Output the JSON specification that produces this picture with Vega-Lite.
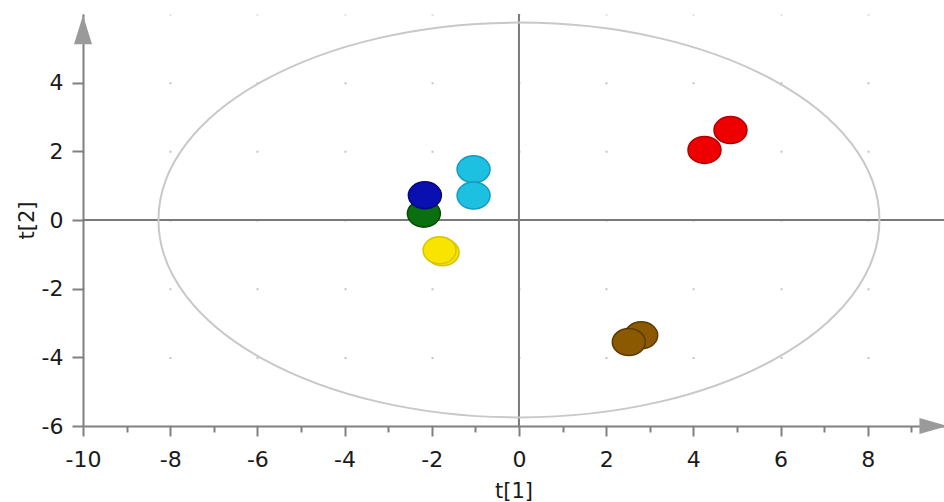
{
  "$schema": "https://vega.github.io/schema/vega-lite/v6.json",
  "width": 861,
  "height": 412,
  "autosize": {"type": "none"},
  "padding": {"left": 83, "top": 14, "right": 0, "bottom": 76},
  "background": "white",
  "config": {
    "view": {"stroke": null},
    "axis": {
      "labelFont": "DejaVu Sans",
      "labelFontSize": 22,
      "labelColor": "#1a1a1a",
      "titleFont": "DejaVu Sans",
      "titleFontSize": 21,
      "titleFontWeight": "normal",
      "titleColor": "#1a1a1a",
      "domainColor": "#808080",
      "domainWidth": 2,
      "tickColor": "#808080",
      "tickWidth": 2
    }
  },
  "datasets": {
    "scores": [
      {"t1": -2.181, "t2": 0.186, "group": "G"},
      {"t1": -2.158, "t2": 0.72, "group": "B"},
      {"t1": -1.041, "t2": 1.476, "group": "C"},
      {"t1": -1.041, "t2": 0.711, "group": "C"},
      {"t1": -1.752, "t2": -0.94, "group": "Y"},
      {"t1": -1.821, "t2": -0.882, "group": "Y"},
      {"t1": 4.256, "t2": 2.04, "group": "R"},
      {"t1": 4.852, "t2": 2.62, "group": "R"},
      {"t1": 2.804, "t2": -3.358, "group": "N"},
      {"t1": 2.52, "t2": -3.553, "group": "N"}
    ]
  },
  "layer": [
    {
      "data": {"values": [{"t1": 0}]},
      "mark": {"type": "rule", "color": "#7a7a7a", "strokeWidth": 2},
      "encoding": {
        "x": {"field": "t1", "type": "quantitative",
          "scale": {"domain": [-10, 9.75], "nice": false, "zero": false},
          "axis": {
            "title": "t[1]",
            "values": [-10, -9, -8, -7, -6, -5, -4, -3, -2, -1, 0, 1, 2, 3, 4, 5, 6, 7, 8, 9],
            "labelExpr": "datum.value % 2 === 0 ? replace(datum.label, '\u2212', '-') : ''",
            "tickSize": {"condition": {"test": "datum.value % 2 === 0", "value": 10}, "value": 6},
            "labelPadding": 13,
            "labelFlush": false,
            "grid": true,
            "gridColor": "#c4c4c4",
            "gridWidth": 2,
            "gridDash": [2, 66.68],
            "gridDashOffset": 1,
            "gridOpacity": {"condition": {"test": "datum.value % 2 === 0", "value": 1}, "value": 0},
            "titlePadding": 10
          }
        }
      }
    },
    {
      "data": {"values": [{"t2": 0}]},
      "mark": {"type": "rule", "color": "#7a7a7a", "strokeWidth": 2},
      "encoding": {
        "y": {"field": "t2", "type": "quantitative",
          "scale": {"domain": [-6, 6], "nice": false, "zero": false},
          "axis": {
            "title": "t[2]",
            "values": [-6, -5, -4, -3, -2, -1, 0, 1, 2, 3, 4, 5],
            "labelExpr": "datum.value % 2 === 0 ? replace(datum.label, '\u2212', '-') : ''",
            "tickSize": {"condition": {"test": "datum.value % 2 === 0", "value": 11}, "value": 7},
            "labelPadding": 9,
            "labelFlush": false,
            "grid": false,
            "titlePadding": 4
          }
        }
      }
    },
    {
      "data": {"values": [{"t1": 0, "t2": 0}]},
      "mark": {
        "type": "point",
        "shape": "M-1,0A1,0.5476 0 1,1 1,0A1,0.5476 0 1,1 -1,0Z",
        "size": 519841,
        "filled": false,
        "color": "#c8c8c8",
        "strokeWidth": 2,
        "opacity": 1
      },
      "encoding": {
        "x": {"field": "t1", "type": "quantitative"},
        "y": {"field": "t2", "type": "quantitative"}
      }
    },
    {
      "data": {"name": "scores"},
      "mark": {
        "type": "point",
        "shape": "M-1,0A1,0.82 0 1,1 1,0A1,0.82 0 1,1 -1,0Z",
        "size": 1089,
        "filled": true,
        "opacity": 1,
        "strokeWidth": 1.5
      },
      "encoding": {
        "x": {"field": "t1", "type": "quantitative"},
        "y": {"field": "t2", "type": "quantitative"},
        "fill": {"field": "group", "type": "nominal", "legend": null,
          "scale": {"domain": ["R", "C", "B", "G", "Y", "N"],
            "range": ["#ee0000", "#1ec0e2", "#0a0fb0", "#0a700f", "#f8e400", "#8b5a00"]}},
        "stroke": {"field": "group", "type": "nominal", "legend": null,
          "scale": {"domain": ["R", "C", "B", "G", "Y", "N"],
            "range": ["#b00000", "#119cc0", "#05087a", "#064c08", "#d8c400", "#5c3a00"]}}
      }
    },
    {
      "data": {"values": [{"t1": -10, "t2": 5.54, "dir": "up"}]},
      "mark": {
        "type": "point",
        "shape": "M0,-1L0.62,1L-0.62,1Z",
        "size": 841,
        "filled": true,
        "color": "#9a9a9a",
        "opacity": 1
      },
      "encoding": {
        "x": {"field": "t1", "type": "quantitative"},
        "y": {"field": "t2", "type": "quantitative"}
      }
    },
    {
      "data": {"values": [{"t1": 9.507, "t2": -6, "dir": "right"}]},
      "mark": {
        "type": "point",
        "shape": "M1,0L-1,-0.57L-1,0.57Z",
        "size": 784,
        "filled": true,
        "color": "#9a9a9a",
        "opacity": 1
      },
      "encoding": {
        "x": {"field": "t1", "type": "quantitative"},
        "y": {"field": "t2", "type": "quantitative"}
      }
    }
  ]
}
